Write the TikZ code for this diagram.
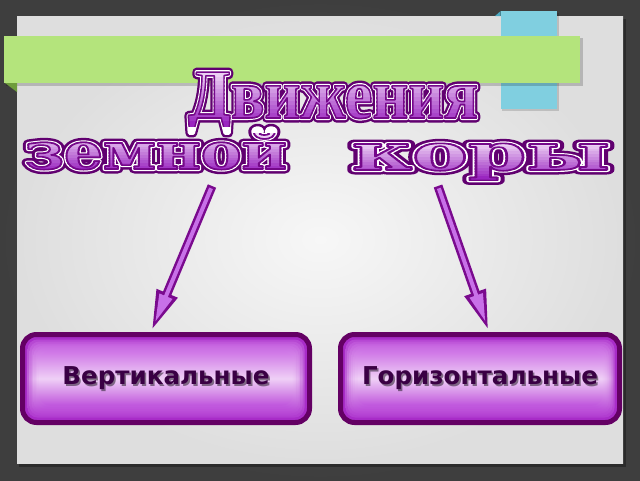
\documentclass[tikz,border=0pt]{standalone}
\usepackage{fontspec}
\usepackage{graphicx}
\usetikzlibrary{arrows.meta,calc}
\newfontfamily\titlefont{Liberation Serif}
\newfontfamily\wordfont{DejaVu Serif}
\newfontfamily\boxfont{DejaVu Sans}
\definecolor{bgdark}{HTML}{3E3E3E}
\definecolor{bgmid}{HTML}{5C5C5C}
\definecolor{slidein}{HTML}{F7F7F7}
\definecolor{slideout}{HTML}{DEDEDE}
\definecolor{barGreen}{HTML}{B4E47C}
\definecolor{foldGreen}{HTML}{6E9C3C}
\definecolor{barBlue}{HTML}{80CFE0}
\definecolor{foldBlue}{HTML}{4AA8C0}
\definecolor{arrowDark}{HTML}{7A0A8E}
\definecolor{arrowLight}{HTML}{C870E8}
\definecolor{boxBorder}{HTML}{640064}
\definecolor{boxBevel}{HTML}{A82CC8}
\definecolor{boxTop}{HTML}{CF72E8}
\definecolor{boxMid}{HTML}{F6DCFB}
\definecolor{boxBot}{HTML}{BC4ADC}
\definecolor{boxText}{HTML}{3A0044}
\definecolor{waTop}{HTML}{FBEEFD}
\definecolor{waBot}{HTML}{9A26C0}
\newcommand\pdflit[1]{\special{pdf:literal direct #1}}
% outer purple ring + white ring
\newcommand\ringtext[1]{%
  \leavevmode
  \rlap{\pdflit{q 2 Tr 1 j 9 w 0.38 0.0 0.44 RG 0.38 0.0 0.44 rg}#1\pdflit{Q}}%
  \pdflit{q 2 Tr 1 j 4 w 1 1 1 RG 1 1 1 rg}#1\pdflit{Q}}
% fill (current colour) + thin inner purple line
\newcommand\filltext[1]{%
  \leavevmode\pdflit{q 2 Tr 1 j 1.6 w 0.46 0.03 0.54 RG}#1\pdflit{Q}}
\newcommand\wTitle[1]{\resizebox{290pt}{\height}{\titlefont\bfseries\fontsize{70}{70}\selectfont#1{Движения}}}
\newcommand\wZem[1]{\resizebox{262pt}{\height}{\wordfont\bfseries\fontsize{50}{50}\selectfont#1{земной}}}
\newcommand\wKor[1]{\resizebox{258pt}{\height}{\wordfont\bfseries\fontsize{50}{50}\selectfont#1{коры}}}
\newcommand\boxlabel{}
\tikzset{
  arrowouter/.style={line width=9pt, draw=arrowDark, -{Triangle[length=42pt,width=20pt]}},
  arrowinner/.style={line width=4pt, draw=arrowLight, shorten <=2.5pt, shorten >=10.8pt,
     -{Triangle[length=28pt,width=13pt]}},
  boxfont/.style={font=\boxfont\bfseries\fontsize{24.6}{24.6}\selectfont},
  boxstyle/.style={draw=boxBorder, line width=5pt, fill=boxBevel, rounded corners=14pt,
     minimum height=88pt, inner sep=0pt, text=boxText, boxfont,
     path picture={
       \foreach \k in {1,...,7}{
         \shade[top color=boxTop, bottom color=boxBot, middle color=boxMid, opacity=0.33,
           rounded corners=10pt]
           ($(path picture bounding box.north west)+(3+2*\k,3+2*\k)$) rectangle
           ($(path picture bounding box.south east)+(-3-2*\k,-3-2*\k)$);
       }
       \node[text=black, opacity=.45, boxfont]
         at ($(path picture bounding box.center)+(1.6,1.6)$) {\boxlabel};
     }},
  wordart/.style={anchor=base, inner sep=0pt}
}
% word art: #1 name, #2 position, #3 word macro, #4 top y, #5 bottom y
\newcommand\wordart[5]{%
  \node[wordart] (#1) at (#2) {#3{\ringtext}};
  \foreach \i in {0,...,13}{
    \pgfmathsetmacro\ya{#4+(#5-#4)*\i/14-0.3}
    \pgfmathsetmacro\yb{#4+(#5-#4)*(\i+1)/14+0.3}
    \pgfmathtruncatemacro\pct{8+92*\i/13}
    \colorlet{bandcol}{waBot!\pct!waTop}
    \begin{scope}
      \clip (0,\ya) rectangle (640,\yb);
      \node[wordart, text=bandcol] (#1-band\i) at (#2) {#3{\filltext}};
    \end{scope}
  }%
}
\begin{document}
\begin{tikzpicture}[x=1pt,y=-1pt]
\useasboundingbox (0,0) rectangle (640,480);
% background
\shade[inner color=bgmid, outer color=bgdark] (0,0) rectangle (640,480);
% slide
\fill[black, opacity=.3] (19,19) rectangle (626,467);
\shade[inner color=slidein, outer color=slideout] (17,16) rectangle (623,463);
% blue tab
\fill[black, opacity=.15] (502,13) rectangle (559,111);
\fill[barBlue] (500.7,11) rectangle (556.7,109);
\fill[foldBlue] (495,16) -- (500.7,11) -- (500.7,16) -- cycle;
% green bar
\fill[black, opacity=.18] (6,38) rectangle (583,86);
\fill[barGreen] (4,36) rectangle (580,83);
\fill[foldGreen] (5,83) -- (17,83) -- (17,92) -- cycle;
% titles
\wordart{title}{333,118}{\wTitle}{70}{126}
\wordart{w1}{156,169}{\wZem}{134}{172}
\wordart{w2}{481,170}{\wKor}{141}{180}
% boxes
\renewcommand\boxlabel{Вертикальные}
\node[boxstyle, minimum width=287pt] (vb) at (166,378.5) {Вертикальные};
\renewcommand\boxlabel{Горизонтальные}
\node[boxstyle, minimum width=279pt] (gb) at (480,378.5) {Горизонтальные};
% arrows
\coordinate (la1) at (212,186);
\coordinate (la2) at (151,332);
\coordinate (ra1) at (438,186);
\coordinate (ra2) at (489,332);
\draw[arrowouter] (la1) -- (la2);
\draw[arrowinner] (la1) -- (la2);
\draw[arrowouter] (ra1) -- (ra2);
\draw[arrowinner] (ra1) -- (ra2);
\end{tikzpicture}
\end{document}
